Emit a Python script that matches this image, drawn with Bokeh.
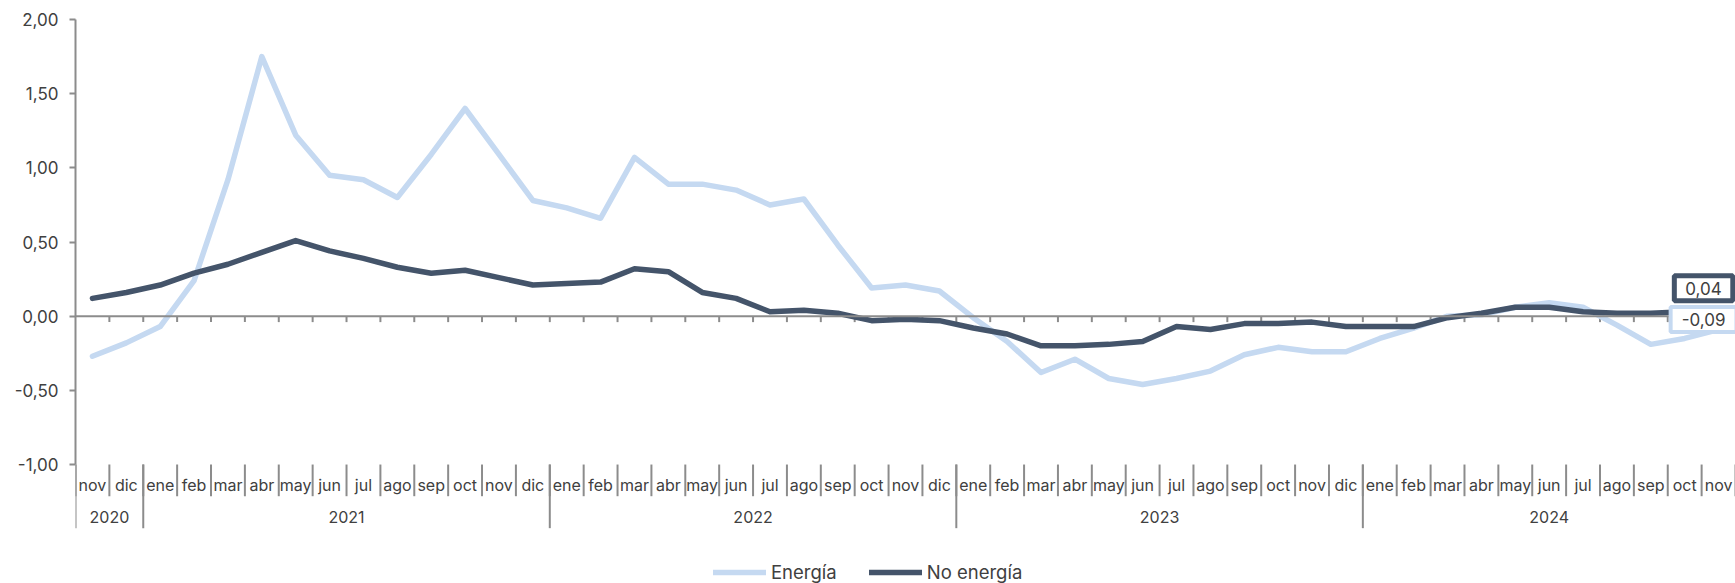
from bokeh.plotting import figure
from bokeh.models import (Range1d, FixedTicker, CustomJSTickFormatter,
                          Span, Label, Legend, LegendItem)
from bokeh.core.properties import value
from bokeh.embed import file_html
from bokeh.resources import INLINE

# ---------------- data ----------------
meses = ["nov", "dic",
         "ene", "feb", "mar", "abr", "may", "jun", "jul", "ago", "sep", "oct", "nov", "dic",
         "ene", "feb", "mar", "abr", "may", "jun", "jul", "ago", "sep", "oct", "nov", "dic",
         "ene", "feb", "mar", "abr", "may", "jun", "jul", "ago", "sep", "oct", "nov", "dic",
         "ene", "feb", "mar", "abr", "may", "jun", "jul", "ago", "sep", "oct", "nov"]
anios = (["2020"] * 2 + ["2021"] * 12 + ["2022"] * 12 + ["2023"] * 12 + ["2024"] * 11)

energia = [-0.27, -0.18, -0.07, 0.24, 0.92, 1.75, 1.22, 0.95, 0.92, 0.80, 1.09, 1.40,
           1.09, 0.78, 0.73, 0.66, 1.07, 0.89, 0.89, 0.85, 0.75, 0.79, 0.48, 0.19,
           0.21, 0.17, -0.01, -0.17, -0.38, -0.29, -0.42, -0.46, -0.42, -0.37, -0.26, -0.21,
           -0.24, -0.24, -0.15, -0.08, 0.00, 0.01, 0.06, 0.09, 0.06, -0.06, -0.19, -0.15,
           -0.09]
no_energia = [0.12, 0.16, 0.21, 0.29, 0.35, 0.43, 0.51, 0.44, 0.39, 0.33, 0.29, 0.31,
              0.26, 0.21, 0.22, 0.23, 0.32, 0.30, 0.16, 0.12, 0.03, 0.04, 0.02, -0.03,
              -0.02, -0.03, -0.08, -0.12, -0.20, -0.20, -0.19, -0.17, -0.07, -0.09, -0.05, -0.05,
              -0.04, -0.07, -0.07, -0.07, -0.01, 0.02, 0.06, 0.06, 0.03, 0.02, 0.02, 0.03,
              0.04]
y_ticks = [-1.0, -0.5, 0.0, 0.5, 1.0, 1.5, 2.0]
series_names = ["Energía", "No energía"]

# ---------------- derived positions ----------------
n = len(meses)
idx = list(range(n))
bounds = [i - 0.5 for i in range(n + 1)]
year_names, year_first, year_last = [], [], []
for i, y in enumerate(anios):
    if not year_names or year_names[-1] != y:
        year_names.append(y)
        year_first.append(i)
        year_last.append(i)
    else:
        year_last[-1] = i
year_centers = [(a + b) / 2 for a, b in zip(year_first, year_last)]
year_bounds = [a - 0.5 for a in year_first]

# ---------------- style / layout constants ----------------
FONT = "Inter"
TXT = "#404040"
AX = "#8c8c8c"
C_EN = "#C5D9F1"
C_NE = "#44546A"

Y_MIN, Y_MAX = y_ticks[0], y_ticks[-1]
Y_BOTTOM = -1.802          # extra room under the axis for category labels + legend
MONTH_LBL_Y = -1.139
MONTH_SEP_Y = -1.2135
YEAR_LBL_Y = -1.355
YEAR_SEP_Y = -1.429
ZERO_TICK = 0.04

p = figure(width=1735, height=583,
           x_range=Range1d(-0.5, n - 0.5), y_range=Range1d(Y_BOTTOM, Y_MAX),
           x_axis_type=None, output_backend="svg", toolbar_location=None,
           min_border_left=75, min_border_right=0, min_border_top=19, min_border_bottom=0)
p.outline_line_color = None
p.ygrid.grid_line_color = None
p.background_fill_color = "white"
p.border_fill_color = "white"

# y axis
ya = p.yaxis[0]
ya.bounds = (Y_MIN, Y_MAX)
ya.ticker = FixedTicker(ticks=y_ticks)
ya.formatter = CustomJSTickFormatter(code="return tick.toFixed(2).replace('.', ',');")
ya.axis_line_color = AX
ya.axis_line_width = 2
ya.major_tick_line_color = AX
ya.major_tick_line_width = 2
ya.major_tick_out = 6
ya.major_tick_in = 0
ya.minor_tick_line_color = None
ya.major_label_standoff = 11
ya.major_label_text_font = FONT
ya.major_label_text_font_size = "17px"
ya.major_label_text_color = TXT

# zero line with category ticks
p.add_layout(Span(location=0, dimension="width", line_color=AX, line_width=2))
p.segment(x0=bounds[1:], y0=0, x1=bounds[1:], y1=-ZERO_TICK, line_color=AX, line_width=2)

# category axis (months / years) drawn under the value axis
p.segment(x0=bounds, y0=Y_MIN, x1=bounds, y1=MONTH_SEP_Y, line_color=AX, line_width=2)
p.segment(x0=year_bounds, y0=Y_MIN, x1=year_bounds, y1=YEAR_SEP_Y, line_color=AX, line_width=2)
p.text(x=idx, y=[MONTH_LBL_Y] * n, text=meses, text_align="center", text_baseline="middle",
       text_font=value(FONT), text_font_size="16px", text_color=TXT)
p.text(x=year_centers, y=[YEAR_LBL_Y] * len(year_centers), text=year_names,
       text_align="center", text_baseline="middle",
       text_font=value(FONT), text_font_size="16px", text_color=TXT)

# series
r_en = p.line(idx, energia, line_color=C_EN, line_width=5.5, line_join="round", line_cap="round")
r_ne = p.line(idx, no_energia, line_color=C_NE, line_width=5.5, line_join="round", line_cap="round")

# end labels
def fmt(v):
    return f"{v:.2f}".replace(".", ",")

pad = dict(left=11, right=11, top=6, bottom=6)
lab_en = Label(x=idx[-1], y=energia[-1], x_offset=-15, y_offset=10, text=fmt(energia[-1]),
               text_align="center", text_baseline="middle", text_font=FONT,
               text_font_size="17px", text_color=TXT, background_fill_color="white",
               border_line_color=C_EN, border_line_width=4, padding=pad)
lab_ne = Label(x=idx[-1], y=no_energia[-1], x_offset=-15, y_offset=22, text=fmt(no_energia[-1]),
               text_align="center", text_baseline="middle", text_font=FONT,
               text_font_size="17px", text_color=TXT, background_fill_color="white",
               border_line_color=C_NE, border_line_width=5, padding=pad)
p.add_layout(lab_en)
p.add_layout(lab_ne)

legend = Legend(items=[LegendItem(label=series_names[0], renderers=[r_en]),
                       LegendItem(label=series_names[1], renderers=[r_ne])],
                location=(638, 0), orientation="horizontal",
                glyph_width=53, glyph_height=20, label_standoff=5, spacing=32,
                padding=0, margin=0, border_line_color=None, background_fill_alpha=0,
                label_text_font=FONT, label_text_font_size="18.5px", label_text_color=TXT)
p.add_layout(legend)

open("out.html", "w").write(file_html(p, INLINE))
